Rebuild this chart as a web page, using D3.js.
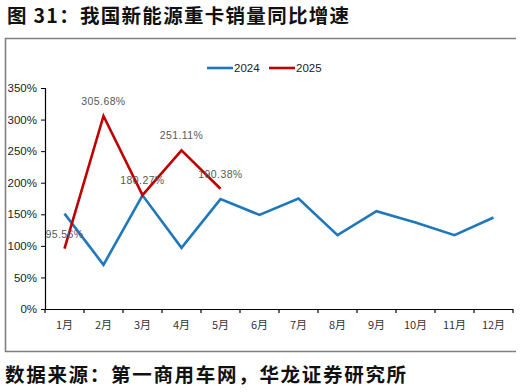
<!DOCTYPE html>
<html><head><meta charset="utf-8">
<script src="https://cdn.jsdelivr.net/npm/d3@7"></script>
<style>
body{margin:0;background:#fff;}
svg{display:block;}
</style></head>
<body><svg id="c" width="521" height="392"></svg>
<script>
const months = ["1月","2月","3月","4月","5月","6月","7月","8月","9月","10月","11月","12月"];
const series2024 = [151, 70, 180, 97, 174, 149, 175, 117, 155, 137, 117, 145];
const series2025 = [95.56, 305.68, 180.27, 251.11, 190.38];
const labels2025 = ["95.56%","305.68%","180.27%","251.11%","190.38%"];
const yTicks = [0,50,100,150,200,250,300,350];
const seriesNames = ["2024","2025"];
const colors = ["#1F78B9","#C00000"];

const svg = d3.select("#c");
const cjk = "'Noto Sans CJK SC','Noto Sans',sans-serif";
const latin = "'Liberation Sans',Arial,sans-serif";

// title
svg.append("text").attr("x",7).attr("y",23).text("图 31：我国新能源重卡销量同比增速")
  .attr("font-family",cjk).attr("font-weight","bold").attr("font-size",19.5).attr("fill","#111")
  .attr("letter-spacing",1.3);
// footer
svg.append("text").attr("x",5).attr("y",382).text("数据来源：第一商用车网，华龙证券研究所")
  .attr("font-family",cjk).attr("font-weight","bold").attr("font-size",19.5).attr("fill","#111")
  .attr("letter-spacing",1.7);

// frame
const fr = svg.append("g").attr("stroke","#808080").attr("stroke-width",1.6).attr("fill","none");
fr.append("line").attr("x1",5).attr("x2",516).attr("y1",38.5).attr("y2",38.5);
fr.append("line").attr("x1",5).attr("x2",516).attr("y1",351.5).attr("y2",351.5);
fr.append("line").attr("x1",5.5).attr("x2",5.5).attr("y1",38).attr("y2",352);

const x = d3.scaleBand().domain(months).range([45,513]);
const y = d3.scaleLinear().domain([0,350]).range([309,88]);

// y axis
const yAx = svg.append("g").attr("transform","translate(45,0)")
  .call(d3.axisLeft(y).tickValues(yTicks).tickFormat(d=>d+"%").tickSize(4).tickPadding(4));
yAx.select(".domain").attr("stroke","#000").attr("stroke-width",1.2).attr("d","M-4,88.5H0.5V309.5");
yAx.selectAll(".tick line").attr("stroke","#000");
yAx.selectAll("text").attr("font-family",latin).attr("font-size",11.5).attr("fill","#222");

// x axis
const xAx = svg.append("g").attr("transform","translate(0,309)")
  .call(d3.axisBottom(x).tickSize(0).tickPadding(12));
xAx.select(".domain").attr("stroke","#000").attr("stroke-width",1.2).attr("d","M45,0.5H513");
xAx.selectAll("text").attr("font-family",cjk).attr("font-size",11).attr("fill","#333");
const bounds = months.map(m=>x(m)).concat([x.range()[1]]);
xAx.selectAll(".bt").data(bounds).enter().append("line").attr("class","bt")
  .attr("x1",d=>d).attr("x2",d=>d).attr("y1",0).attr("y2",4).attr("stroke","#000").attr("stroke-width",1.2);

const cx = m => x(m)+x.bandwidth()/2;
const line = d3.line().x(d=>cx(d.m)).y(d=>y(d.v));

const d24 = series2024.map((v,i)=>({m:months[i],v}));
const d25 = series2025.map((v,i)=>({m:months[i],v}));

svg.append("path").datum(d24).attr("d",line).attr("fill","none")
  .attr("stroke",colors[0]).attr("stroke-width",2.6).attr("stroke-linejoin","miter");
svg.append("path").datum(d25).attr("d",line).attr("fill","none")
  .attr("stroke",colors[1]).attr("stroke-width",2.6).attr("stroke-linejoin","miter");

// data labels
svg.selectAll(".dl").data(d25).enter().append("text").attr("class","dl")
  .attr("x",d=>cx(d.m)).attr("y",d=>y(d.v)-11)
  .attr("text-anchor","middle").attr("font-family",latin).attr("font-size",10.5)
  .attr("fill","#595959").attr("letter-spacing",0.4)
  .text((d,i)=>labels2025[i]);

// legend
const lg = svg.append("g");
const lx = [207,269];
seriesNames.forEach((n,i)=>{
  lg.append("line").attr("x1",lx[i]).attr("x2",lx[i]+26).attr("y1",68).attr("y2",68)
    .attr("stroke",colors[i]).attr("stroke-width",2.6);
  lg.append("text").attr("x",lx[i]+27).attr("y",72).text(n)
    .attr("font-family",latin).attr("font-size",11.5).attr("fill","#222");
});
</script></body></html>
